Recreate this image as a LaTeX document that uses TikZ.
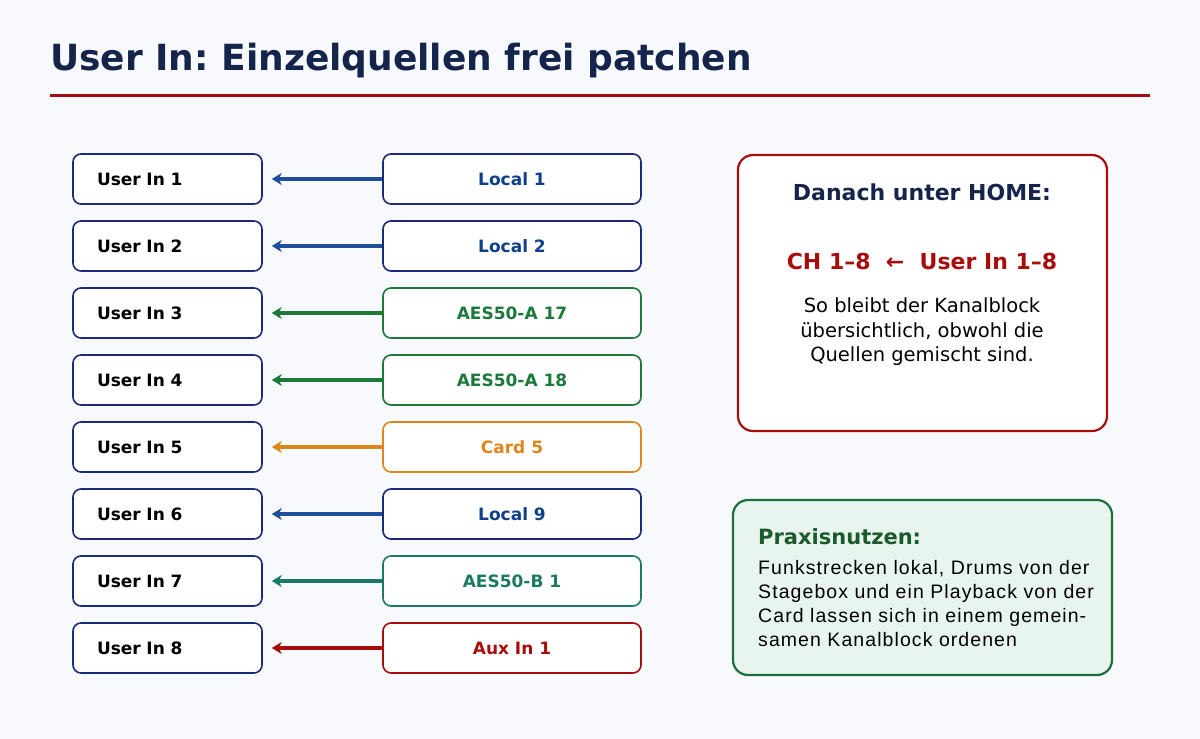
\documentclass[tikz,border=0pt]{standalone}
\usepackage{fontspec}
\setmainfont{DejaVu Sans}
\newfontfamily\libfont{Liberation Sans}[LetterSpace=5.5]
\usetikzlibrary{arrows.meta}
\definecolor{bgc}{HTML}{F7F9FC}
\definecolor{navy}{HTML}{14244A}
\definecolor{boxnavy}{HTML}{1A2A7A}
\definecolor{redline}{HTML}{A30D0D}
\definecolor{cblue}{HTML}{0F3F8C}
\definecolor{ablue}{HTML}{1D4F9A}
\definecolor{cgreen}{HTML}{1B7A3A}
\definecolor{corange}{HTML}{E0851A}
\definecolor{cteal}{HTML}{1A7A64}
\definecolor{cred}{HTML}{A80D0D}
\definecolor{pgreen}{HTML}{1E6E3C}
\definecolor{pfill}{HTML}{E8F5EE}
\definecolor{ptitle}{HTML}{1B5A2C}
\frenchspacing
\tikzset{
  userbox/.style={draw=boxnavy, line width=1.6pt, fill=white, rounded corners=8pt,
    minimum width=189pt, minimum height=50pt, text width=141pt, inner xsep=24pt,
    align=left, font=\bfseries\fontsize{17}{20}\selectfont, text=black},
  srcbox/.style={draw=#1, line width=1.6pt, fill=white, rounded corners=8pt,
    minimum width=258pt, minimum height=50pt, align=center,
    font=\bfseries\fontsize{17}{20}\selectfont},
  patch/.style={draw=#1, line width=3.6pt, -{Stealth[length=10pt,width=12pt]}, shorten >=9pt},
}
\begin{document}
\begin{tikzpicture}[x=1pt,y=-1pt]
\fill[bgc] (0,0) rectangle (1200,739);
\useasboundingbox (0,0) rectangle (1200,739);
\node[anchor=base west, inner sep=0, text=navy, font=\bfseries\fontsize{36}{40}\selectfont] (title) at (50,70) {User In: Einzelquellen frei patchen};
\draw[redline, line width=3pt] (50,95.5) -- (1150,95.5);

\foreach \i [count=\k] in {1,...,8}{
  \pgfmathsetmacro\yy{179+67*(\k-1)}
  \node[userbox] (l\i) at (167.5,\yy) {User In \i};
}
\node[srcbox=boxnavy, text=cblue] (r1) at (512,179) {Local 1};
\node[srcbox=boxnavy, text=cblue] (r2) at (512,246) {Local 2};
\node[srcbox=cgreen, text=cgreen] (r3) at (512,313) {AES50-A 17};
\node[srcbox=cgreen, text=cgreen] (r4) at (512,380) {AES50-A 18};
\node[srcbox=corange, text=corange] (r5) at (512,447) {Card 5};
\node[srcbox=boxnavy, text=cblue] (r6) at (512,514) {Local 9};
\node[srcbox=cteal, text=cteal] (r7) at (512,581) {AES50-B 1};
\node[srcbox=cred, text=cred] (r8) at (512,648) {Aux In 1};
\draw[patch=ablue] (r1.west) -- (l1.east);
\draw[patch=ablue] (r2.west) -- (l2.east);
\draw[patch=cgreen] (r3.west) -- (l3.east);
\draw[patch=cgreen] (r4.west) -- (l4.east);
\draw[patch=corange] (r5.west) -- (l5.east);
\draw[patch=ablue] (r6.west) -- (l6.east);
\draw[patch=cteal] (r7.west) -- (l7.east);
\draw[patch=cred] (r8.west) -- (l8.east);

% right top panel
\draw[cred, line width=2.2pt, fill=white, rounded corners=15pt] (738,155) rectangle (1107,431);
\node[anchor=base, inner sep=0, text=navy, font=\bfseries\fontsize{22}{26}\selectfont] (home) at (922,200) {Danach unter HOME:};
\node[anchor=base, inner sep=0, text=cred, font=\bfseries\fontsize{22}{26}\selectfont] (ch) at (922,269.5) {CH 1–8\ \ ←\ \ User In 1–8};
\node[anchor=north, inner sep=0, align=center, font=\fontsize{19.5}{24.5}\selectfont] (so) at (922,297.5) {So bleibt der Kanalblock\\übersichtlich, obwohl die\\Quellen gemischt sind.};

% right bottom panel
\draw[pgreen, line width=2.2pt, fill=pfill, rounded corners=15pt] (733,500) rectangle (1112,675);
\node[anchor=base west, inner sep=0, text=ptitle, font=\bfseries\fontsize{21}{25}\selectfont] (px) at (758,544.5) {Praxisnutzen:};
\node[anchor=north west, inner sep=0, align=left, font=\libfont\fontsize{19.5}{24}\selectfont] (pxt) at (758,560) {Funkstrecken lokal, Drums von der\\Stagebox und ein Playback von der\\Card lassen sich in einem gemein-\\samen Kanalblock ordenen};
\end{tikzpicture}
\end{document}
